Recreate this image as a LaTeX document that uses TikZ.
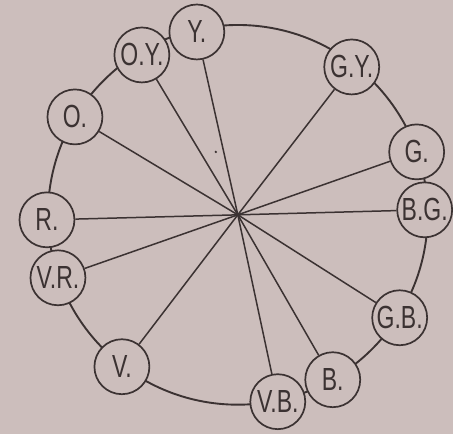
\documentclass[tikz,border=0pt]{standalone}
\usepackage{fontspec}
\newfontfamily\labelfont[FakeStretch=0.72]{Liberation Sans}
\definecolor{paper}{HTML}{CCBEBC}
\definecolor{ink}{HTML}{3B3232}
\begin{document}
\begin{tikzpicture}[
    x=1pt, y=-1pt,
    hue/.style={
        circle,
        draw=ink,
        line width=1.7pt,
        fill=paper,
        minimum size=55pt,
        inner sep=0pt,
        font=\labelfont\fontsize{32}{32}\selectfont,
        text=ink
    },
    rim/.style={
        draw=ink,
        line width=1.9pt
    },
    spoke/.style={
        draw=ink,
        line width=1.5pt
    }
]
    \fill[paper] (0,0) rectangle (453,434);
    \coordinate (ctr) at (238,215);
    \draw[rim] (ctr) circle (190);
    \fill[ink] (216,152) circle (1.3);
    \foreach \name/\lbl/\x/\y in {
        Y/Y./197/32,
        OY/O.Y./142/55,
        O/O./75/117,
        R/R./47/220,
        VR/V.R./58/278,
        V/V./122/367,
        VB/V.B./278/402,
        B/B./333/380,
        GB/G.B./400/318,
        BG/B.G./425/210,
        G/G./417/152,
        GY/G.Y./352/67%
    } {
        \node[hue] (\name) at (\x, \y) {\lbl};
        \draw[spoke] (ctr) -- (\name);
    }

\end{tikzpicture}
\end{document}
